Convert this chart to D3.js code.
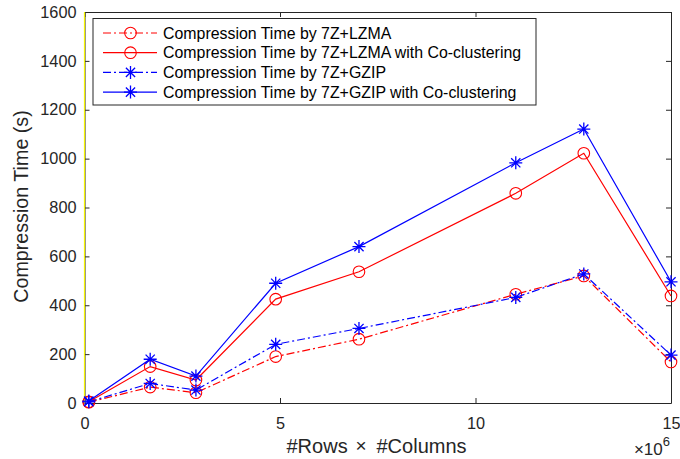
<!DOCTYPE html>
<html>
<head>
<meta charset="utf-8">
<script src="https://cdn.jsdelivr.net/npm/d3@7"></script>
<style>
  body { margin: 0; background: #fff; }
  svg { font-family: "Liberation Sans", Arial, sans-serif; }
</style>
</head>
<body>
<svg id="chart"></svg>
<script>
// x values are in millions (axis shows x10^6)
var sizes = [0.11, 1.68, 2.85, 4.89, 7.02, 11.03, 12.77, 15.0];
var lzma = [3, 65, 42, 190, 261, 445, 520, 168];
var lzmaCo = [5, 149, 94, 425, 537, 858, 1022, 438];
var gzip = [5, 80, 53, 240, 305, 432, 528, 196];
var gzipCo = [8, 179, 110, 490, 640, 983, 1121, 496];
var xTicks = [0, 5, 10, 15];
var yTicks = [0, 200, 400, 600, 800, 1000, 1200, 1400, 1600];

var series = [
  { name: "Compression Time by 7Z+LZMA", values: lzma, color: "#ff0000", dash: "8,3,2,3", marker: "circle" },
  { name: "Compression Time by 7Z+LZMA with Co-clustering", values: lzmaCo, color: "#ff0000", dash: null, marker: "circle" },
  { name: "Compression Time by 7Z+GZIP", values: gzip, color: "#0000ff", dash: "8,3,2,3", marker: "star" },
  { name: "Compression Time by 7Z+GZIP with Co-clustering", values: gzipCo, color: "#0000ff", dash: null, marker: "star" }
];

var svgWidth = 680, svgHeight = 459;
var margin = { top: 12, right: 9, bottom: 56, left: 84.5 };
var width = svgWidth - margin.left - margin.right;
var height = svgHeight - margin.top - margin.bottom;
var axisColor = "#262626";

var svg = d3.select("#chart")
    .attr("width", svgWidth)
    .attr("height", svgHeight);

var g = svg.append("g")
    .attr("transform", "translate(" + margin.left + "," + margin.top + ")");

var x = d3.scaleLinear().domain([0, 15]).range([0, width]);
var y = d3.scaleLinear().domain([0, 1600]).range([height, 0]);

// box with inward ticks (matlab style)
function styleAxis(sel) {
  sel.selectAll("path").attr("stroke", axisColor);
  sel.selectAll("line").attr("stroke", axisColor);
  sel.selectAll("text").attr("fill", axisColor).style("font-size", "16.3px");
}

g.append("g")
    .attr("transform", "translate(0," + height + ")")
    .call(d3.axisBottom(x).tickValues(xTicks).tickSizeInner(-5).tickSizeOuter(0).tickPadding(14).tickFormat(d3.format("d")))
    .call(styleAxis);

g.append("g")
    .call(d3.axisTop(x).tickValues(xTicks).tickSizeInner(-5).tickSizeOuter(0).tickFormat(""))
    .call(styleAxis);

g.append("g")
    .call(d3.axisLeft(y).tickValues(yTicks).tickSizeInner(-5).tickSizeOuter(0).tickPadding(8).tickFormat(d3.format("d")))
    .call(styleAxis);

g.append("g")
    .attr("transform", "translate(" + width + ",0)")
    .call(d3.axisRight(y).tickValues(yTicks).tickSizeInner(-5).tickSizeOuter(0).tickFormat(""))
    .call(styleAxis);

// the left spine shows up yellow in the original
g.append("line")
    .attr("x1", 0).attr("x2", 0)
    .attr("y1", 0).attr("y2", height)
    .attr("stroke", "#f4f400")
    .attr("stroke-width", 1.2);

var line = d3.line()
    .x(function(d, i) { return x(sizes[i]); })
    .y(function(d) { return y(d); });

function drawMarker(sel, type, color) {
  if (type == "circle") {
    sel.append("circle")
      .attr("r", 5.8)
      .attr("fill", "none")
      .attr("stroke", color)
      .attr("stroke-width", 1.1);
  } else {
    var r = 6.5, d = r * 0.7071;
    var p = "M" + (-r) + ",0L" + r + ",0M0," + (-r) + "L0," + r +
            "M" + (-d) + "," + (-d) + "L" + d + "," + d +
            "M" + (-d) + "," + d + "L" + d + "," + (-d);
    sel.append("path")
      .attr("d", p)
      .attr("stroke", color)
      .attr("stroke-width", 1.3);
  }
}

series.forEach(function(s) {
  g.append("path")
    .datum(s.values)
    .attr("fill", "none")
    .attr("stroke", s.color)
    .attr("stroke-width", 1.2)
    .attr("stroke-dasharray", s.dash)
    .attr("d", line);

  s.values.forEach(function(v, i) {
    var m = g.append("g").attr("transform", "translate(" + x(sizes[i]) + "," + y(v) + ")");
    drawMarker(m, s.marker, s.color);
  });
});

// axis labels
var xl = g.append("text")
    .attr("y", height + 50)
    .attr("fill", axisColor)
    .style("font-size", "20px");
xl.append("tspan").attr("x", 202).text("#Rows");
xl.append("tspan").attr("x", 271).attr("dy", -1).style("font-size", "19px").style("font-weight", "300").text("\u00d7");
xl.append("tspan").attr("x", 292).attr("dy", 1).text("#Columns");

g.append("text")
    .attr("transform", "translate(" + (-56.5) + "," + 194.5 + ") rotate(-90)")
    .attr("text-anchor", "middle")
    .attr("fill", axisColor)
    .style("font-size", "19.7px")
    .text("Compression Time (s)");

var exp = g.append("text")
    .attr("x", width - 1)
    .attr("y", height + 52)
    .attr("text-anchor", "end")
    .attr("fill", axisColor)
    .style("font-size", "17px");
exp.append("tspan").text("\u00d710");
exp.append("tspan").attr("dy", -9).style("font-size", "13px").text("6");

// legend
var leg = g.append("g").attr("transform", "translate(8.5,6.5)");
leg.append("rect")
    .attr("width", 443)
    .attr("height", 86.5)
    .attr("fill", "#fff")
    .attr("stroke", axisColor)
    .attr("stroke-width", 1);

series.forEach(function(s, i) {
  var row = leg.append("g").attr("transform", "translate(0," + (14.5 + i * 19.7) + ")");
  row.append("line")
    .attr("x1", 10).attr("x2", 64)
    .attr("stroke", s.color)
    .attr("stroke-width", 1.2)
    .attr("stroke-dasharray", s.dash);
  var m = row.append("g").attr("transform", "translate(37.5,0)");
  drawMarker(m, s.marker, s.color);
  row.append("text")
    .attr("x", 70)
    .attr("dy", "0.35em")
    .attr("fill", "#000")
    .style("font-size", "15.9px")
    .text(s.name);
});
</script>
</body>
</html>
